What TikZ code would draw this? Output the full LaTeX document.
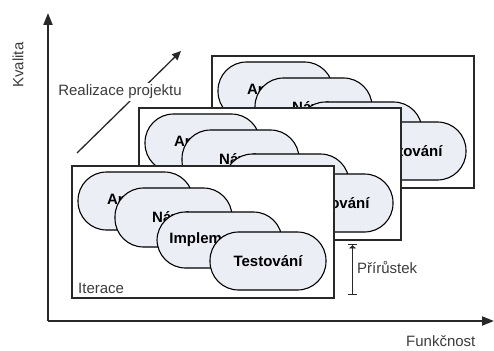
\documentclass[tikz,border=0pt]{standalone}
\usepackage{fontspec}
\setmainfont{Liberation Sans}
\usetikzlibrary{arrows.meta}
\definecolor{pillfill}{RGB}{235,238,245}
\definecolor{ink}{RGB}{40,40,40}
\definecolor{labelgray}{RGB}{60,60,60}
\newcommand\labelfont{\fontsize{15}{18}\selectfont}
\tikzset{
  iterbox/.style={draw=ink, line width=1.6pt, fill=white, rectangle,
    minimum width=262pt, minimum height=132pt, inner sep=0pt},
  pill/.style={draw=black, line width=1.1pt, fill=pillfill, rectangle,
    rounded corners=28.5pt, inner sep=0pt, font=\labelfont\bfseries},
  lbl/.style={text=labelgray, inner sep=1pt, font=\labelfont},
  axis/.style={draw=ink, line width=2pt, -{Triangle[length=12pt,width=9pt]}},
}
% One iteration: white frame with four overlapping phase pills
\newcommand\iterframe[2]{%
  \begin{scope}[shift={#2}]
    \node[iterbox] (f#1) at (131,66) {};
    \node[pill, minimum width=115pt, minimum height=58pt] (a#1) at (63.5,35) {Analýza};
    \node[pill, minimum width=117pt, minimum height=59pt] (n#1) at (101.5,51.5) {Návrh};
    \node[pill, minimum width=125pt, minimum height=56pt] (i#1) at (147.5,74) {Implementace};
    \node[pill, minimum width=116pt, minimum height=58pt] (t#1) at (196,95) {Testování};
  \end{scope}}
\begin{document}
\begin{tikzpicture}[x=1pt, y=-1pt]
  \useasboundingbox (0,0) rectangle (494,350);

  % axes
  \coordinate (origin) at (48,321);
  \coordinate (ytip) at (48,13);
  \coordinate (xtip) at (494,321);
  \draw[axis] (origin) -- (ytip);
  \draw[axis] (origin) -- (xtip);
  \node[lbl, rotate=90] (kval) at (18,65) {Kvalita};
  \node[lbl, anchor=west] (funk) at (405,341) {Funkčnost};

  % direction of project progress
  \coordinate (rstart) at (77,153);
  \coordinate (rend) at (181,51);
  \draw[draw=ink, line width=1.3pt, -{Triangle[length=9pt,width=8pt]}] (rstart) -- (rend);
  \node[lbl, fill=white, inner sep=2pt] (real) at (120,92) {Realizace projektu};

  % iterations, back to front
  \iterframe{3}{(212,56)}
  \iterframe{2}{(139,108)}
  \iterframe{1}{(72,166)}
  \node[lbl, anchor=west] (iter) at (77,288) {Iterace};

  % increment marker
  \coordinate (inctop) at (352.5,244);
  \coordinate (incbot) at (352.5,295);
  \draw[draw=ink, line width=1.4pt, {Bar[width=9pt]Triangle[length=3pt,width=7pt]}-{Bar[width=9pt]}] (inctop) -- (incbot);
  \node[lbl, anchor=west] (prir) at (356,268) {Přírůstek};
\end{tikzpicture}
\end{document}
